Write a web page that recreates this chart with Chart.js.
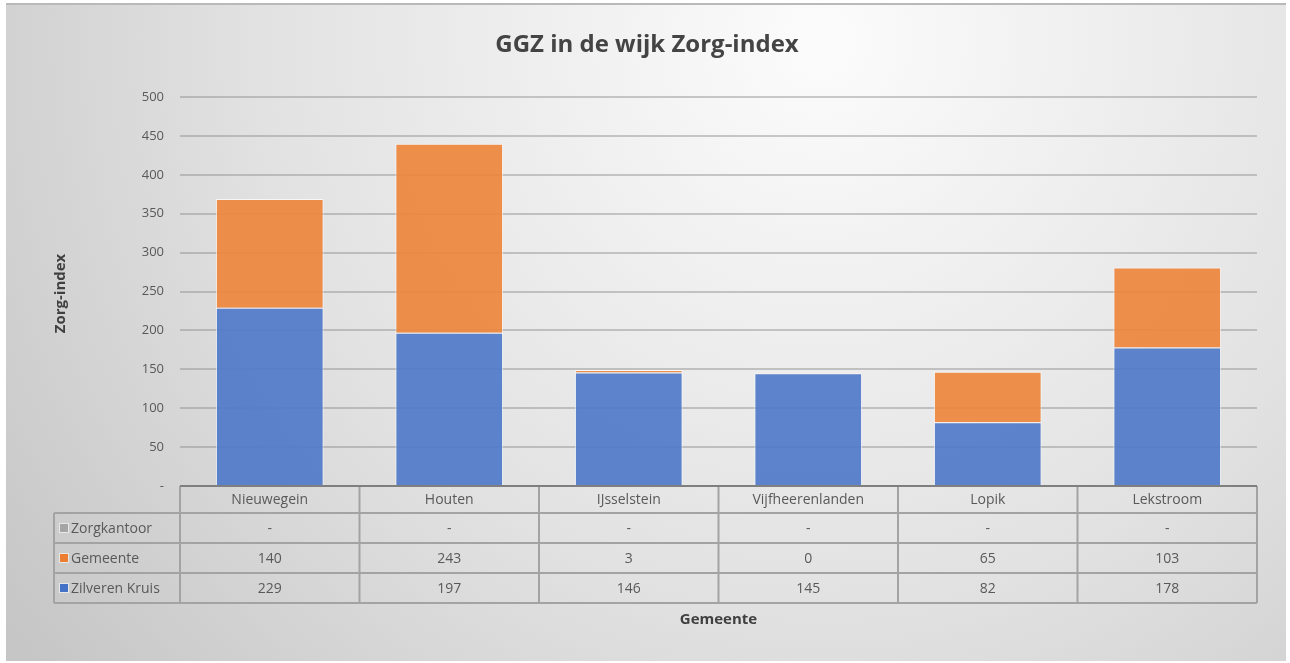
<!DOCTYPE html>
<html>
<head>
<meta charset="utf-8">
<script src="https://cdn.jsdelivr.net/npm/chart.js@4.4.0/dist/chart.umd.min.js"></script>
<style>
  html, body { margin: 0; padding: 0; background: #fff; }
  #wrap { width: 1290px; height: 663px; }
</style>
</head>
<body>
<div id="wrap"><canvas id="chart" width="1290" height="663"></canvas></div>
<script>
const categories = ['Nieuwegein', 'Houten', 'IJsselstein', 'Vijfheerenlanden', 'Lopik', 'Lekstroom'];
const zilverenKruis = [229, 197, 146, 145, 82, 178];
const gemeente = [140, 243, 3, 0.4, 65, 103];
const zorgkantoor = [0, 0, 0, 0, 0, 0];
const yTicks = [0, 50, 100, 150, 200, 250, 300, 350, 400, 450, 500];

const FONT = '"Open Sans", "Noto Sans", sans-serif';
const TEXT = '#595959';
const BLUE = 'rgba(79,122,201,0.92)';
const ORANGE = 'rgba(237,133,61,0.92)';
const GRAY = '#a5a5a5';

function fmt(v) {
    if (v === 0 || v == null) return '-';
    return String(Math.round(v));
}

// background panel + gradient
const bgPlugin = {
    id: 'bg',
    beforeDraw(chart) {
        const c = chart.ctx;
        c.save();
        c.fillStyle = '#ffffff';
        c.fillRect(0, 0, chart.width, chart.height);
        const g = c.createRadialGradient(820, 40, 20, 820, 40, 1000);
        g.addColorStop(0, '#fbfbfb');
        g.addColorStop(0.55, '#e2e2e2');
        g.addColorStop(1, '#c6c6c6');
        c.fillStyle = g;
        c.fillRect(6, 4, 1280, 657);
        c.fillStyle = '#b9b9b9';
        c.fillRect(6, 3, 1280, 2);
        c.restore();
    }
};

// title, axis titles and data table under the bars
const tablePlugin = {
    id: 'dataTable',
    afterDraw(chart) {
        const c = chart.ctx;
        const area = chart.chartArea;
        const x = chart.scales.x;
        const step = (area.right - area.left) / categories.length;
        const top = area.bottom;
        const headH = 27, rowH = 30;
        const legL = 54;
        const rows = [
            { label: 'Zorgkantoor', color: GRAY, data: zorgkantoor },
            { label: 'Gemeente', color: '#ed7d31', data: gemeente },
            { label: 'Zilveren Kruis', color: '#4472c4', data: zilverenKruis }
        ];
        const bottom = top + headH + rows.length * rowH;

        c.save();
        // title
        c.fillStyle = '#444';
        c.font = 'bold 24px ' + FONT;
        c.textAlign = 'center';
        c.textBaseline = 'middle';
        c.fillText('GGZ in de wijk Zorg-index', 647, 45);

        // y axis title
        c.font = 'bold 15px ' + FONT;
        c.fillStyle = '#404040';
        c.save();
        c.translate(61, (area.top + area.bottom) / 2 + 2);
        c.rotate(-Math.PI / 2);
        c.fillText('Zorg-index', 0, 0);
        c.restore();

        // x axis title
        c.fillText('Gemeente', (area.left + area.right) / 2, bottom + 17);

        // grid of table
        c.strokeStyle = '#a3a3a3';
        c.lineWidth = 2;
        c.beginPath();
        for (let r = 1; r <= rows.length; r++) {
            const yy = top + headH + (r - 1) * rowH;
            c.moveTo(legL, yy); c.lineTo(area.right, yy);
        }
        c.moveTo(legL, bottom); c.lineTo(area.right, bottom);
        c.moveTo(legL, top + headH); c.lineTo(legL, bottom);
        for (let i = 0; i <= categories.length; i++) {
            const xx = area.left + i * step;
            c.moveTo(xx, top); c.lineTo(xx, bottom);
        }
        c.stroke();
        c.strokeStyle = '#7f7f7f';
        c.beginPath();
        c.moveTo(area.left, top); c.lineTo(area.right, top);
        c.stroke();

        // header labels
        c.font = '14px ' + FONT;
        c.fillStyle = TEXT;
        categories.forEach((cat, i) => {
            c.fillText(cat, x.getPixelForValue(i), top + headH / 2 + 1);
        });

        // rows
        rows.forEach((row, r) => {
            const cy = top + headH + r * rowH + rowH / 2;
            c.fillStyle = '#e8e8e8';
            c.fillRect(legL + 5, cy - 5, 10, 10);
            c.fillStyle = row.color;
            c.fillRect(legL + 6, cy - 4, 8, 8);
            c.fillStyle = TEXT;
            c.textAlign = 'left';
            c.fillText(row.label, legL + 17, cy + 1);
            c.textAlign = 'center';
            row.data.forEach((v, i) => {
                c.fillText(fmt(v), x.getPixelForValue(i), cy + 1);
            });
        });
        c.restore();
    }
};

new Chart(document.getElementById('chart'), {
    type: 'bar',
    data: {
        labels: categories,
        datasets: [
            { label: 'Zilveren Kruis', data: zilverenKruis, backgroundColor: BLUE },
            { label: 'Gemeente', data: gemeente, backgroundColor: ORANGE },
            { label: 'Zorgkantoor', data: zorgkantoor, backgroundColor: GRAY }
        ]
    },
    options: {
        responsive: false,
        animation: false,
        events: [],
        layout: { padding: { left: 0, right: 33, top: 97, bottom: 177 } },
        datasets: {
            bar: {
                categoryPercentage: 1,
                barPercentage: 0.6,
                borderColor: 'rgba(255,255,255,0.7)',
                borderWidth: 1
            }
        },
        plugins: {
            legend: { display: false },
            title: { display: false },
            tooltip: { enabled: false }
        },
        scales: {
            x: {
                stacked: true,
                ticks: { display: false },
                grid: { display: false },
                border: { display: false },
                afterFit(s) { s.height = 0; }
            },
            y: {
                stacked: true,
                min: 0,
                max: 500,
                afterBuildTicks(s) { s.ticks = yTicks.map(v => ({ value: v })); },
                afterFit(s) { s.width = 180; },
                ticks: {
                    padding: 16,
                    color: TEXT,
                    font: { family: FONT, size: 13 },
                    callback: v => v === 0 ? '-' : v
                },
                grid: {
                    drawTicks: false,
                    lineWidth: 2,
                    color: ctx => ctx.tick && ctx.tick.value === 0 ? 'rgba(0,0,0,0)' : 'rgba(140,140,140,0.45)'
                },
                border: { display: false }
            }
        }
    },
    plugins: [bgPlugin, tablePlugin]
});
</script>
</body>
</html>
